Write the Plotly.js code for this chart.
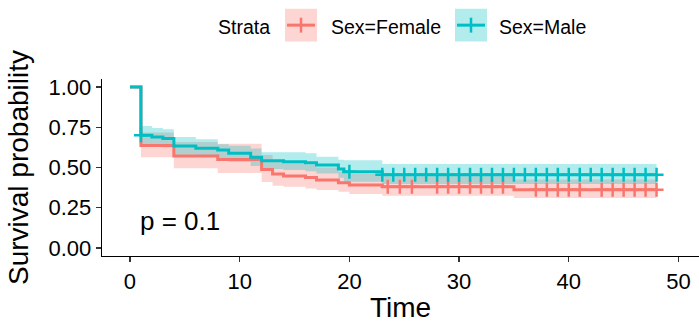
<!DOCTYPE html>
<html>
<head>
<meta charset="utf-8">
<script src="https://cdn.plot.ly/plotly-3.0.1.min.js"></script>
<style>html,body{margin:0;padding:0;background:#fff;}#chart{width:699px;height:323px;}</style>
</head>
<body>
<div id="chart"></div>
<script>
// ---- Data ----
const strata = ["Sex=Female", "Sex=Male"];

const femaleTime  = [0, 1, 4, 8, 12, 13, 14, 16, 17, 19, 20, 23, 35, 48];
const femaleSurv  = [1, 0.636, 0.571, 0.55, 0.487, 0.46, 0.447, 0.438, 0.422, 0.405, 0.392, 0.38, 0.362, 0.362];
const femaleLower = [1, 0.563, 0.495, 0.466, 0.41, 0.387, 0.38, 0.37, 0.36, 0.35, 0.335, 0.325, 0.31, 0.31];
const femaleUpper = [1, 0.718, 0.659, 0.648, 0.578, 0.547, 0.526, 0.518, 0.50, 0.475, 0.46, 0.445, 0.425, 0.425];
const femaleCensor = [23.5, 24.6, 25.7, 28, 29, 30, 31, 32, 33, 34, 37, 38, 39, 40, 41, 43, 44, 45, 46, 47, 48];

const maleTime  = [0, 1, 2, 3, 4, 6, 8, 9, 11, 12, 14, 16, 17, 19, 19.5, 23, 48];
const maleSurv  = [1, 0.70, 0.69, 0.68, 0.634, 0.62, 0.608, 0.588, 0.563, 0.542, 0.536, 0.53, 0.515, 0.49, 0.474, 0.455, 0.455];
const maleLower = [1, 0.645, 0.635, 0.625, 0.58, 0.567, 0.556, 0.535, 0.51, 0.49, 0.484, 0.477, 0.462, 0.437, 0.412, 0.397, 0.397];
const maleUpper = [1, 0.758, 0.745, 0.737, 0.69, 0.675, 0.645, 0.635, 0.618, 0.595, 0.594, 0.588, 0.567, 0.548, 0.545, 0.522, 0.522];
const maleCensor = [1, 20, 23, 24, 25, 26, 27, 28, 29, 30, 31, 32, 33, 34, 35, 36, 37, 38, 39, 40, 41, 42, 43, 44, 45, 46, 47, 48];

const xTicks = [0, 10, 20, 30, 40, 50];
const yTicks = [0, 0.25, 0.5, 0.75, 1];
const yTickText = ["0.00", "0.25", "0.50", "0.75", "1.00"];
const pvalText = "p = 0.1";

// ---- Styling ----
const RED = "#F8766D", TEAL = "#00BFC4";
const RED_FILL = "rgba(248,118,109,0.3)", TEAL_FILL = "rgba(0,191,196,0.3)";
const FONT = "Liberation Sans, Arial, sans-serif";

function stepValue(times, surv, t) {
  let v = surv[0];
  for (let i = 0; i < times.length; i++) { if (times[i] <= t) v = surv[i]; }
  return v;
}

function band(times, lower, upper, fill) {
  return [
    {x: times, y: lower, type: "scatter", mode: "lines", line: {shape: "hv", width: 0, color: fill}, hoverinfo: "skip", showlegend: false},
    {x: times, y: upper, type: "scatter", mode: "lines", line: {shape: "hv", width: 0, color: fill}, fill: "tonexty", fillcolor: fill, hoverinfo: "skip", showlegend: false}
  ];
}
function curve(times, surv, color, name) {
  return {x: times, y: surv, type: "scatter", mode: "lines", name: name, line: {shape: "hv", width: 3, color: color}, showlegend: false};
}
function censor(times, surv, ct, color) {
  return {x: ct, y: ct.map(t => stepValue(times, surv, t)), type: "scatter", mode: "markers",
    marker: {symbol: "cross-thin", size: 10, color: color, line: {width: 2.5, color: color}}, showlegend: false, hoverinfo: "skip"};
}

const traces = [].concat(
  band(femaleTime, femaleLower, femaleUpper, RED_FILL),
  band(maleTime, maleLower, maleUpper, TEAL_FILL),
  [curve(femaleTime, femaleSurv, RED, strata[0]), curve(maleTime, maleSurv, TEAL, strata[1]),
   censor(femaleTime, femaleSurv, femaleCensor, RED), censor(maleTime, maleSurv, maleCensor, TEAL)]
);

// ---- Layout geometry (pixels) ----
const W = 699, H = 323;
const mL = 102, mR = 0, mT = 78.6, mB = 66.6;
const pw = W - mL - mR, ph = H - mT - mB;
const px = x => (x - mL) / pw;
const py = y => (H - mB - y) / ph;

// Manual legend (ggplot-style keys)
const shapes = [];
const annotations = [];
function legendKey(x0, fill, color) {
  shapes.push({type: "rect", xref: "paper", yref: "paper", x0: px(x0), x1: px(x0 + 32), y0: py(41), y1: py(8), fillcolor: fill, line: {width: 0}, layer: "above"});
  shapes.push({type: "line", xref: "paper", yref: "paper", x0: px(x0 + 2), x1: px(x0 + 30), y0: py(24.5), y1: py(24.5), line: {color: color, width: 3}, layer: "above"});
  shapes.push({type: "line", xref: "paper", yref: "paper", x0: px(x0 + 16), x1: px(x0 + 16), y0: py(17), y1: py(32), line: {color: color, width: 2.5}, layer: "above"});
}
legendKey(285, RED_FILL, RED);
legendKey(455, TEAL_FILL, TEAL);
const legFont = {family: FONT, size: 19.5, color: "#000"};
annotations.push({xref: "paper", yref: "paper", x: px(216), y: py(26.5), xanchor: "left", yanchor: "middle", text: "Strata", showarrow: false, font: legFont});
annotations.push({xref: "paper", yref: "paper", x: px(329), y: py(26.5), xanchor: "left", yanchor: "middle", text: strata[0], showarrow: false, font: legFont});
annotations.push({xref: "paper", yref: "paper", x: px(497), y: py(26.5), xanchor: "left", yanchor: "middle", text: strata[1], showarrow: false, font: legFont});
annotations.push({xref: "x", yref: "y", x: 0.75, y: 0.165, xanchor: "left", yanchor: "middle", text: pvalText, showarrow: false, font: {family: FONT, size: 26, color: "#000"}});

const layout = {
  width: W, height: H,
  margin: {l: mL, r: mR, t: mT, b: mB, pad: 0},
  paper_bgcolor: "#fff", plot_bgcolor: "#fff",
  showlegend: false,
  font: {family: FONT, color: "#000"},
  xaxis: {
    range: [-2.55, 51.87], tickvals: xTicks, ticktext: xTicks.map(String),
    showgrid: false, zeroline: false, showline: true, linecolor: "#000", linewidth: 1.3,
    ticks: "outside", ticklen: 5, tickwidth: 1.3, tickcolor: "#333",
    tickfont: {family: FONT, size: 22, color: "#000"},
    title: {text: "Time", font: {family: FONT, size: 28, color: "#000"}, standoff: 10}
  },
  yaxis: {
    range: [-0.05, 1.05], tickvals: yTicks, ticktext: yTickText,
    showgrid: false, zeroline: false, showline: true, linecolor: "#000", linewidth: 1.3,
    ticks: "outside", ticklen: 5, tickwidth: 1.3, tickcolor: "#333",
    tickfont: {family: FONT, size: 22, color: "#000"},
    title: {text: "Survival probability", font: {family: FONT, size: 28, color: "#000"}, standoff: 11}
  },
  shapes: shapes,
  annotations: annotations
};

Plotly.newPlot("chart", traces, layout, {displayModeBar: false, staticPlot: true});
</script>
</body>
</html>
